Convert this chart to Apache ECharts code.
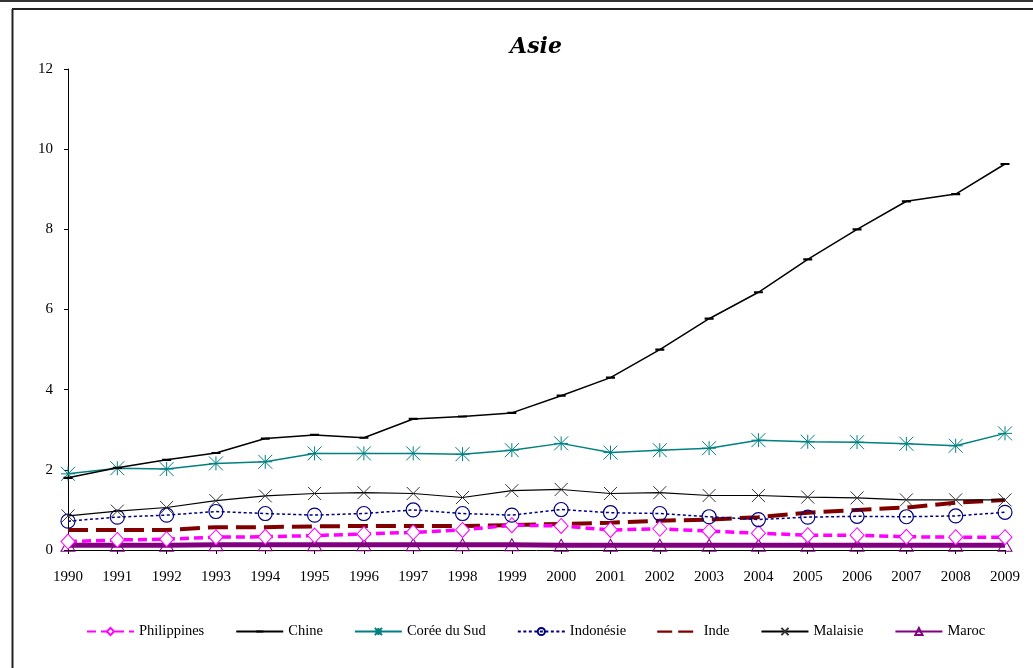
<!DOCTYPE html>
<html>
<head>
<meta charset="utf-8">
<script src="https://cdn.jsdelivr.net/npm/echarts@6/dist/echarts.min.js"></script>
<style>
  html, body { margin: 0; padding: 0; background: #fff; }
  #show_picture { width: 1033px; height: 668px; }
</style>
</head>
<body>
<div id="show_picture"></div>
<script>
const years = ['1990', '1991', '1992', '1993', '1994', '1995', '1996', '1997', '1998', '1999',
    '2000', '2001', '2002', '2003', '2004', '2005', '2006', '2007', '2008', '2009'];

const philippines = [0.21, 0.25, 0.27, 0.32, 0.33, 0.36, 0.40, 0.44, 0.50, 0.62, 0.60, 0.50, 0.53, 0.47, 0.42, 0.37, 0.37, 0.33, 0.32, 0.32];
const chine = [1.80, 2.05, 2.25, 2.42, 2.78, 2.87, 2.80, 3.27, 3.33, 3.42, 3.85, 4.30, 5.00, 5.77, 6.43, 7.25, 8.00, 8.70, 8.88, 9.63];
const coree = [1.90, 2.04, 2.02, 2.16, 2.20, 2.41, 2.41, 2.41, 2.39, 2.49, 2.66, 2.43, 2.49, 2.54, 2.74, 2.70, 2.69, 2.65, 2.60, 2.91];
const indonesie = [0.72, 0.82, 0.87, 0.96, 0.91, 0.87, 0.91, 1.00, 0.91, 0.87, 1.01, 0.93, 0.91, 0.83, 0.76, 0.82, 0.84, 0.83, 0.85, 0.94];
const inde = [0.50, 0.50, 0.50, 0.57, 0.57, 0.59, 0.60, 0.60, 0.60, 0.62, 0.65, 0.68, 0.73, 0.76, 0.82, 0.93, 1.00, 1.06, 1.18, 1.25];
const malaisie = [0.85, 0.97, 1.06, 1.23, 1.35, 1.41, 1.43, 1.41, 1.31, 1.48, 1.51, 1.41, 1.43, 1.36, 1.36, 1.32, 1.30, 1.25, 1.25, 1.25];
const maroc = [0.12, 0.12, 0.12, 0.13, 0.13, 0.13, 0.13, 0.13, 0.13, 0.13, 0.12, 0.12, 0.12, 0.12, 0.12, 0.12, 0.12, 0.12, 0.12, 0.12];

const yTicks = { min: 0, max: 12, interval: 2 };

// marker shapes: stroked ones use a transparent fill, the border draws the lines
const asterisk = 'path://M5 0 L5 10 M0 0 L10 10 M10 0 L0 10 M0 5 L10 5';
const cross = 'path://M0 0 L10 10 M10 0 L0 10';
// small horizontal bar inside a square box (tiny dots keep the box size)
const bar = 'path://M0 0 L0.01 0 M0 3.4 L9 3.4 L9 5.6 L0 5.6 Z M9 9 L8.99 9';
// two long dashes for the legend of Inde
const dashes = 'path://M0 0 L0.01 0 M0 4.5 L20 4.5 L20 7.5 L0 7.5 Z M28 4.5 L48 4.5 L48 7.5 L28 7.5 Z M48 12 L47.99 12';

let myChart = echarts.init(document.getElementById('show_picture'));

const font = 'Liberation Serif, Times New Roman, serif';

let option = {
    animation: false,
    textStyle: { fontFamily: font, color: '#000' },
    title: {
        text: 'Asie',
        left: 531,
        textAlign: 'center',
        top: 31,
        textStyle: {
            fontFamily: 'DejaVu Serif, serif',
            fontStyle: 'italic',
            fontWeight: 'bold',
            fontSize: 22,
            color: '#000'
        }
    },
    grid: { left: 68, right: 28, top: 69, bottom: 118 },
    legend: {
        top: 619,
        left: 81,
        itemWidth: 47,
        itemHeight: 9,
        itemGap: 31,
        textStyle: { fontFamily: font, fontSize: 14.5, color: '#000' },
        data: ['Philippines', 'Chine', 'Corée du Sud', 'Indonésie',
            { name: 'Inde', icon: dashes, itemStyle: { color: '#800000' } },
            'Malaisie', 'Maroc']
    },
    xAxis: {
        type: 'category',
        data: years,
        boundaryGap: false,
        axisLine: { lineStyle: { color: '#000', width: 1 } },
        axisTick: { show: true, inside: false, length: 4, lineStyle: { color: '#000' } },
        axisLabel: { color: '#000', fontSize: 15, margin: 20, fontFamily: font, interval: 0 }
    },
    yAxis: {
        type: 'value',
        min: yTicks.min,
        max: yTicks.max,
        interval: yTicks.interval,
        axisLine: { show: true, lineStyle: { color: '#000', width: 1 } },
        axisTick: { show: true, length: 4, lineStyle: { color: '#000' } },
        splitLine: { show: false },
        axisLabel: { color: '#000', fontSize: 15, margin: 15, fontFamily: font }
    },
    graphic: [
        { type: 'line', shape: { x1: 0, y1: 1, x2: 1033, y2: 1 }, style: { stroke: '#333', lineWidth: 2 } },
        { type: 'line', shape: { x1: 12, y1: 9, x2: 1033, y2: 9 }, style: { stroke: '#222', lineWidth: 2 } },
        { type: 'line', shape: { x1: 12.5, y1: 9, x2: 12.5, y2: 668 }, style: { stroke: '#222', lineWidth: 2 } }
    ],
    series: [
        {
            name: 'Maroc', type: 'line', data: maroc, z: 2,
            lineStyle: { color: '#800080', width: 5 },
            symbol: 'triangle', symbolSize: [14, 12],
            itemStyle: { color: 'rgba(255,255,255,0)', borderColor: '#800080', borderWidth: 1 }
        },
        {
            name: 'Inde', type: 'line', data: inde, z: 3,
            lineStyle: { color: '#800000', width: 4, type: [20, 8] },
            symbol: 'none',
            itemStyle: { color: '#800000' }
        },
        {
            name: 'Philippines', type: 'line', data: philippines, z: 4,
            lineStyle: { color: '#FF00FF', width: 3.5, type: [9, 5] },
            symbol: 'diamond', symbolSize: [14, 15],
            itemStyle: { color: '#fff', borderColor: '#FF00FF', borderWidth: 1 }
        },
        {
            name: 'Indonésie', type: 'line', data: indonesie, z: 5,
            lineStyle: { color: '#000080', width: 1.5, type: [3, 2.5] },
            symbol: 'circle', symbolSize: 14,
            itemStyle: { color: 'rgba(255,255,255,0)', borderColor: '#000080', borderWidth: 1.2 }
        },
        {
            name: 'Malaisie', type: 'line', data: malaisie, z: 6,
            lineStyle: { color: '#000', width: 1.2 },
            symbol: cross, symbolSize: 13,
            itemStyle: { color: 'rgba(0,0,0,0)', borderColor: '#333', borderWidth: 1 }
        },
        {
            name: 'Corée du Sud', type: 'line', data: coree, z: 7,
            lineStyle: { color: '#008080', width: 1.5 },
            symbol: asterisk, symbolSize: 14,
            itemStyle: { color: 'rgba(0,0,0,0)', borderColor: '#008080', borderWidth: 1 }
        },
        {
            name: 'Chine', type: 'line', data: chine, z: 8,
            lineStyle: { color: '#000', width: 1.5 },
            symbol: bar, symbolSize: 9,
            itemStyle: { color: '#000' }
        }
    ]
};

option && myChart.setOption(option);
</script>
</body>
</html>
